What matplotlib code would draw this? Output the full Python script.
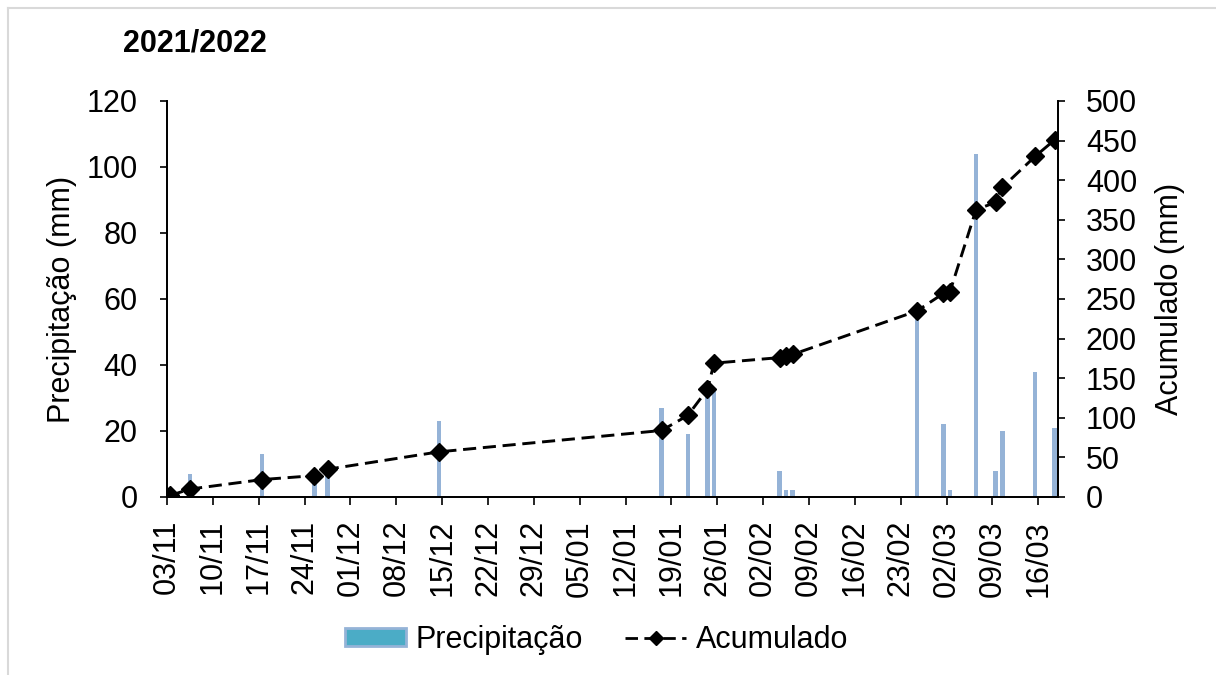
import numpy as np
import pandas as pd
import matplotlib
matplotlib.use('Agg')
import matplotlib.pyplot as plt
from matplotlib.lines import Line2D
from matplotlib.patches import Patch

plt.rcParams['font.family'] = ['Liberation Sans', 'DejaVu Sans']

# Rain days
dates = ['2021-11-03', '2021-11-06', '2021-11-17', '2021-11-25', '2021-11-27',
         '2021-12-14', '2022-01-17', '2022-01-21', '2022-01-24', '2022-01-25',
         '2022-02-04', '2022-02-05', '2022-02-06', '2022-02-25', '2022-03-01',
         '2022-03-02', '2022-03-06', '2022-03-09', '2022-03-10', '2022-03-15',
         '2022-03-18']
precip = [2, 7, 13, 5, 8, 23, 27, 19, 33, 32, 8, 2, 2, 55, 22, 2, 104, 8, 20, 38, 21]
acum = [2, 10, 22, 27, 35, 57, 84, 103, 136, 169, 176, 178, 180, 235, 257, 259,
        363, 372, 391, 430, 451]

start = pd.Timestamp('2021-11-03')
tick_dates = pd.date_range(start, periods=20, freq='7D')
tick_labels = [d.strftime('%d/%m') for d in tick_dates]

# day offsets (bars sit in the middle of each day)
x = np.array([(pd.Timestamp(d) - start).days for d in dates]) + 0.5
tick_x = np.array([(d - start).days for d in tick_dates])

fig = plt.figure(figsize=(12.16, 6.75), dpi=100)
ax = fig.add_axes([167/1216, 1 - 497/675, 891/1216, 396/675])
ax2 = ax.twinx()

fs = 22
dash = (0, (4.5, 2.3))
ax.bar(x, precip, width=0.7, color='#95b3d7', zorder=2)
ax2.plot(x, acum, color='black', linestyle=dash, linewidth=2.1,
         marker='D', markersize=9, zorder=3)

ax.set_xlim(0, 136)
ax.set_ylim(0, 120)
ax2.set_ylim(0, 500)
ax.set_yticks(np.arange(0, 121, 20))
ax2.set_yticks(np.arange(0, 501, 50))
ax.set_xticks(tick_x)
ax.set_xticklabels(tick_labels, rotation=90)

for a in (ax, ax2):
    a.spines['top'].set_visible(False)
    for s in a.spines.values():
        s.set_linewidth(1.3)
ax.tick_params(axis='y', labelsize=fs, length=5, width=1.2, pad=16)
ax.tick_params(axis='x', labelsize=fs, length=5.5, width=1.2, pad=11)
ax2.tick_params(axis='y', labelsize=fs, length=5, width=1.2, pad=15)

ax.set_ylabel('Precipitação (mm)', fontsize=fs)
ax.yaxis.set_label_coords(-0.101, 0.5)
ax2.set_ylabel('Acumulado (mm)', fontsize=fs)
ax2.yaxis.set_label_coords(1.109, 0.5)

fig.text(123/1216, 1 - 43/675, '2021/2022', fontsize=fs, fontweight='bold',
         ha='left', va='center')

handles = [Patch(facecolor='#4bacc6', edgecolor='#95b3d7', linewidth=2),
           Line2D([0], [0], color='black', linestyle=dash, linewidth=2,
                  marker='D', markersize=7)]
fig.legend(handles, ['Precipitação', 'Acumulado'], loc='center',
           bbox_to_anchor=(0.4905, 1 - 640/675), ncol=2, frameon=False,
           fontsize=fs, handlelength=2.0, handleheight=0.5, handletextpad=0.3,
           columnspacing=1.4)

# light frame at the top and left edges
fig.add_artist(Line2D([8/1216, 1], [1 - 8/675, 1 - 8/675], color='#d9d9d9',
                      linewidth=1.5, transform=fig.transFigure))
fig.add_artist(Line2D([8/1216, 8/1216], [0, 1 - 8/675], color='#d9d9d9',
                      linewidth=1.5, transform=fig.transFigure))

fig.savefig('out.png', dpi=100)
